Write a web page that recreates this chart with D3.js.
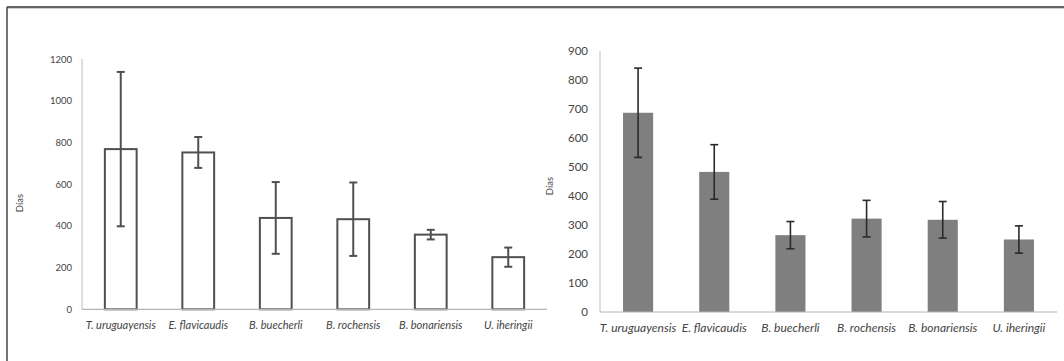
<!DOCTYPE html>
<html>
<head>
<meta charset="utf-8">
<script src="https://cdn.jsdelivr.net/npm/d3@7"></script>
<style>
  html, body { margin: 0; padding: 0; background: #fff; }
  svg { display: block; }
  text { font-family: Lato, "Open Sans", sans-serif; fill: #444; }
</style>
</head>
<body>
<svg id="fig" width="1064" height="361"></svg>
<script>
// Species (shared by both panels)
const species = ["T. uruguayensis", "E. flavicaudis", "B. buecherli", "B. rochensis", "B. bonariensis", "U. iheringii"];

// Left panel: mean days and standard deviation
const leftMeans = [768, 752, 438, 432, 358, 250];
const leftSD    = [370, 74, 172, 176, 23, 46];
const leftTicks = [0, 200, 400, 600, 800, 1000, 1200];

// Right panel: mean days and standard deviation
const rightMeans = [687, 483, 265, 322, 318, 250];
const rightSD    = [154, 94, 47, 63, 63, 47];
const rightTicks = [0, 100, 200, 300, 400, 500, 600, 700, 800, 900];

const svg = d3.select("#fig");

// Outer frame: top rule and left rule
svg.append("line").attr("x1", 7).attr("x2", 1064).attr("y1", 7).attr("y2", 7)
  .attr("stroke", "#333").attr("stroke-width", 1.6);
svg.append("line").attr("x1", 7).attr("x2", 1064).attr("y1", 8.6).attr("y2", 8.6)
  .attr("stroke", "#bbb").attr("stroke-width", 0.8);
svg.append("line").attr("x1", 7).attr("x2", 7).attr("y1", 7).attr("y2", 361)
  .attr("stroke", "#444").attr("stroke-width", 1.5);

function panel(opts) {
  const g = svg.append("g");
  const x = d3.scaleBand().domain(species).range([opts.x0, opts.x1]).padding(0);
  const y = d3.scaleLinear().domain([0, opts.max]).range([opts.y0, opts.y1]);
  const bw = x.bandwidth() * opts.barFrac;
  const cx = d => x(d) + x.bandwidth() / 2;

  // y axis: labels only, plus a light axis line
  const yAxis = d3.axisLeft(y).tickValues(opts.ticks).tickFormat(d3.format("d"))
    .tickSize(0).tickPadding(opts.tickPad);
  const ya = g.append("g").attr("transform", `translate(${opts.x0},0)`).call(yAxis);
  ya.select(".domain").remove();
  ya.selectAll("text").style("font-size", opts.tickFont + "px").style("font-family", "Lato, sans-serif").attr("fill", "#444");
  g.append("line").attr("x1", opts.x0).attr("x2", opts.x0).attr("y1", y(opts.max)).attr("y2", y(0))
    .attr("stroke", "#bdbdbd").attr("stroke-width", 1);

  // bars
  g.selectAll("rect.bar").data(species).join("rect").attr("class", "bar")
    .attr("x", d => cx(d) - bw / 2)
    .attr("width", bw)
    .attr("y", (d, i) => y(opts.means[i]))
    .attr("height", (d, i) => y(0) - y(opts.means[i]))
    .attr("fill", opts.fill)
    .attr("stroke", opts.stroke)
    .attr("stroke-width", opts.strokeW);

  // x axis line
  g.append("line").attr("x1", opts.x0).attr("x2", opts.x1).attr("y1", y(0)).attr("y2", y(0))
    .attr("stroke", "#b5b5b5").attr("stroke-width", 1.2);

  // error bars (mean ± SD)
  const eb = g.selectAll("g.err").data(species).join("g").attr("class", "err");
  eb.append("line")
    .attr("x1", d => cx(d)).attr("x2", d => cx(d))
    .attr("y1", (d, i) => y(opts.means[i] + opts.sd[i]))
    .attr("y2", (d, i) => y(opts.means[i] - opts.sd[i]))
    .attr("stroke", opts.errColor).attr("stroke-width", opts.errW);
  [1, -1].forEach(s => {
    eb.append("line")
      .attr("x1", d => cx(d) - opts.cap / 2).attr("x2", d => cx(d) + opts.cap / 2)
      .attr("y1", (d, i) => y(opts.means[i] + s * opts.sd[i]))
      .attr("y2", (d, i) => y(opts.means[i] + s * opts.sd[i]))
      .attr("stroke", opts.errColor).attr("stroke-width", opts.errW);
  });

  // category labels
  g.selectAll("text.cat").data(species).join("text").attr("class", "cat")
    .attr("x", d => cx(d)).attr("y", opts.catY)
    .attr("text-anchor", "middle")
    .style("font-style", "italic")
    .style("font-size", opts.catFont + "px")
    .text(d => d);

  // y axis title
  g.append("text")
    .attr("transform", `translate(${opts.titleX},${opts.titleY}) rotate(-90)`)
    .attr("text-anchor", "middle")
    .attr("dominant-baseline", "middle")
    .style("font-size", opts.titleFont + "px")
    .text("Días");
}

panel({
  x0: 82, x1: 547, y0: 309.3, y1: 59, max: 1200,
  ticks: leftTicks, means: leftMeans, sd: leftSD,
  barFrac: 0.41, fill: "#fff", stroke: "#505050", strokeW: 2,
  errColor: "#505050", errW: 2, cap: 8,
  tickFont: 9.5, tickPad: 10, catFont: 11, catY: 329,
  titleX: 21, titleY: 203, titleFont: 9.5
});

panel({
  x0: 600, x1: 1057, y0: 312, y1: 51, max: 900,
  ticks: rightTicks, means: rightMeans, sd: rightSD,
  barFrac: 0.395, fill: "#7f7f7f", stroke: "none", strokeW: 0,
  errColor: "#2a2a2a", errW: 1.6, cap: 8,
  tickFont: 11.5, tickPad: 12, catFont: 12, catY: 332,
  titleX: 551, titleY: 186, titleFont: 9.5
});
</script>
</body>
</html>
